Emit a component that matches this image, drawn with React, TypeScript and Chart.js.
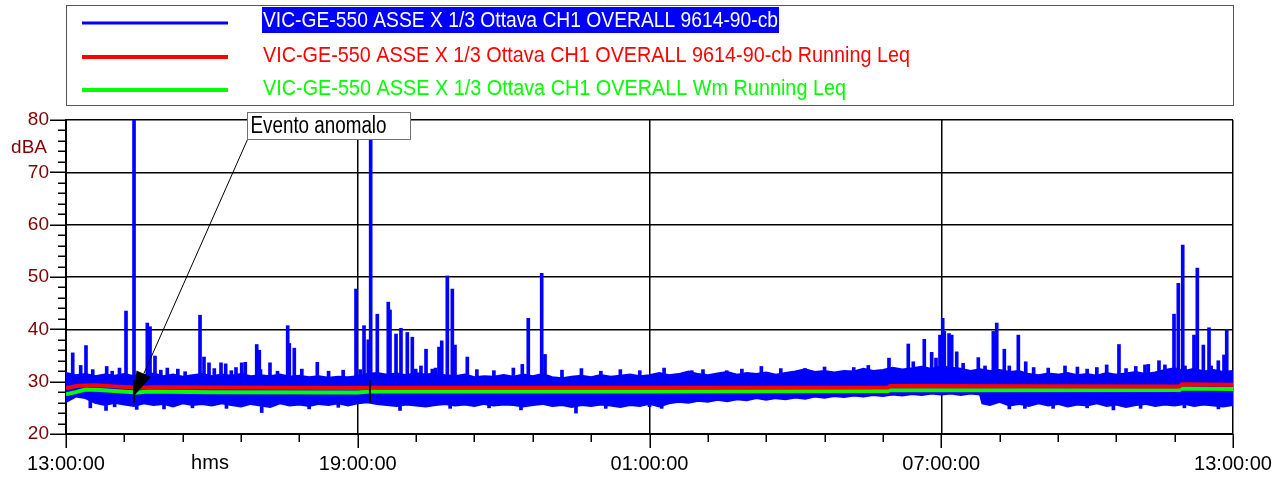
import React, { useEffect, useRef } from 'react';
import { Chart, registerables } from 'chart.js';

Chart.register(...registerables);

// ---------- data (time in hours after 13:00:00, level in dBA) ----------
const legendLabels = [
  'VIC-GE-550 ASSE X 1/3 Ottava CH1 OVERALL 9614-90-cb',
  'VIC-GE-550 ASSE X 1/3 Ottava CH1 OVERALL 9614-90-cb Running Leq',
  'VIC-GE-550 ASSE X 1/3 Ottava CH1 OVERALL Wm Running Leq',
];
const xTickLabels = ['13:00:00', '19:00:00', '01:00:00', '07:00:00', '13:00:00'];
const yAxisUnit = 'dBA';
const xAxisUnit = 'hms';
const annotationText = 'Evento anomalo';

// upper edge of the noisy blue trace
const bandTop: [number, number][] = [
  [0, 31.6], [0.2, 31.2], [0.4, 31.4], [0.6, 31.0], [0.8, 31.3], [1.0, 31.1], [1.2, 31.4], [1.4, 31.0],
  [1.6, 31.2], [1.8, 31.5], [2.0, 31.0], [2.2, 31.3], [2.4, 30.9], [2.6, 31.2], [2.8, 31.4], [3.0, 31.0],
  [3.2, 31.3], [3.4, 31.1], [3.6, 31.4], [3.8, 31.0], [4.0, 31.2], [4.2, 31.0], [4.4, 31.3], [4.6, 30.9],
  [4.8, 31.1], [5.0, 30.8], [5.2, 31.0], [5.4, 30.7], [5.6, 30.9], [5.8, 30.8], [6.0, 31.0], [6.2, 31.4],
  [6.4, 31.6], [6.6, 31.3], [6.8, 31.5], [7.0, 31.2], [7.2, 31.6], [7.4, 31.3], [7.6, 31.5], [7.8, 31.2],
  [8.0, 31.0], [8.2, 31.3], [8.4, 30.8], [8.6, 31.0], [8.8, 30.9], [9.0, 31.2], [9.2, 30.9], [9.4, 31.3],
  [9.6, 31.0], [9.8, 31.4], [10.0, 30.8], [10.2, 30.6], [10.4, 30.9], [10.6, 31.1], [10.8, 30.8], [11.0, 31.2],
  [11.2, 30.9], [11.4, 31.1], [11.6, 31.3], [11.8, 31.0], [12.0, 31.2], [12.2, 31.6], [12.4, 31.2], [12.6, 31.4],
  [12.8, 31.9], [13.0, 31.4], [13.2, 31.2], [13.4, 31.5], [13.6, 31.8], [13.8, 31.3], [14.0, 31.6], [14.2, 31.4],
  [14.4, 31.7], [14.6, 31.3], [14.8, 31.6], [15.0, 31.9], [15.2, 32.3], [15.4, 31.8], [15.6, 32.0], [15.8, 31.7],
  [16.0, 32.0], [16.2, 31.9], [16.4, 32.4], [16.6, 32.0], [16.8, 32.2], [17.0, 32.6], [17.2, 32.3], [17.4, 32.5],
  [17.6, 32.8], [17.8, 32.4], [18.0, 32.9], [18.2, 32.6], [18.4, 32.4], [18.6, 32.0], [18.8, 32.3], [19.0, 32.0],
  [19.2, 32.2], [19.4, 31.8], [19.6, 32.0], [19.8, 31.4], [20.0, 31.2], [20.2, 31.5], [20.4, 31.3], [20.6, 31.6],
  [20.8, 31.2], [21.0, 31.4], [21.2, 31.1], [21.4, 31.6], [21.6, 31.3], [21.8, 31.5], [22.0, 31.8], [22.2, 31.4],
  [22.4, 31.7], [22.6, 32.2], [22.8, 32.5], [23.0, 32.0], [23.2, 32.4], [23.4, 31.9], [23.6, 32.2], [23.8, 31.8],
  [24.0, 32.0],
];

// lower edge of the noisy blue trace
const bandBottom: [number, number][] = [
  [0, 26.2], [0.2, 27.2], [0.4, 26.9], [0.6, 26.0], [0.8, 25.6], [1.0, 26.0], [1.2, 25.7], [1.4, 25.4],
  [1.6, 25.9], [1.8, 25.6], [2.0, 25.8], [2.2, 25.3], [2.4, 25.9], [2.6, 25.6], [2.8, 25.8], [3.0, 25.5],
  [3.2, 25.9], [3.4, 25.6], [3.6, 25.3], [3.8, 25.8], [4.0, 25.5], [4.2, 25.2], [4.4, 25.9], [4.6, 25.5],
  [4.8, 25.7], [5.0, 25.4], [5.2, 25.8], [5.4, 25.6], [5.6, 25.9], [5.8, 25.5], [6.0, 25.9], [6.2, 26.1],
  [6.4, 25.8], [6.6, 25.6], [6.8, 25.4], [7.0, 25.7], [7.2, 25.5], [7.4, 25.3], [7.6, 25.6], [7.8, 25.8],
  [8.0, 25.5], [8.2, 25.7], [8.4, 25.4], [8.6, 25.8], [8.8, 25.5], [9.0, 25.7], [9.2, 25.6], [9.4, 25.3],
  [9.6, 25.6], [9.8, 25.8], [10.0, 25.4], [10.2, 25.6], [10.4, 25.2], [10.6, 25.6], [10.8, 25.4], [11.0, 25.7],
  [11.2, 25.5], [11.4, 25.2], [11.6, 25.6], [11.8, 25.4], [12.0, 25.8], [12.2, 25.3], [12.4, 25.9], [12.6, 26.2],
  [12.8, 26.0], [13.0, 26.4], [13.2, 26.2], [13.4, 26.6], [13.6, 26.3], [13.8, 26.7], [14.0, 26.5], [14.2, 26.9],
  [14.4, 26.6], [14.6, 26.9], [14.8, 26.7], [15.0, 27.0], [15.2, 26.8], [15.4, 27.2], [15.6, 27.0], [15.8, 27.3],
  [16.0, 27.1], [16.2, 27.4], [16.4, 27.2], [16.6, 27.5], [16.8, 27.3], [17.0, 27.6], [17.2, 27.4], [17.4, 27.7],
  [17.6, 27.5], [17.8, 27.8], [18.0, 27.6], [18.2, 27.8], [18.4, 27.5], [18.6, 27.8], [18.8, 27.6], [18.85, 25.9],
  [19.0, 25.6], [19.2, 26.2], [19.4, 25.5], [19.6, 25.8], [19.8, 25.4], [20.0, 25.9], [20.2, 25.5], [20.4, 25.8],
  [20.6, 25.3], [20.8, 25.7], [21.0, 25.5], [21.2, 25.9], [21.4, 25.4], [21.6, 25.7], [21.8, 25.2], [22.0, 25.6],
  [22.2, 25.8], [22.4, 25.4], [22.6, 25.7], [22.8, 25.5], [23.0, 25.8], [23.2, 25.4], [23.4, 25.7], [23.6, 25.5],
  [23.8, 25.3], [24.0, 25.6],
];

// short peaks of the blue trace
const spikeHours = [
  0.138, 0.302, 0.411, 0.837, 1.234, 1.399, 1.672, 1.728, 1.83, 2.083, 2.756, 2.838, 2.941, 3.188, 3.284,
  3.496, 3.613, 3.687, 3.922, 3.975, 4.195, 4.559, 4.592, 4.695, 5.168, 5.964, 6.129, 6.217, 6.266, 6.402,
  6.628, 6.663, 6.787, 6.889, 7.019, 7.122, 7.192, 7.404, 7.533, 7.671, 7.727, 7.842, 7.945, 8.0, 8.253,
  9.384, 9.507, 9.783, 9.851, 12.868, 13.588, 15.198, 16.5, 16.925, 17.322, 17.425, 17.651, 17.803, 17.892,
  17.974, 18.03, 18.063, 18.16, 18.215, 18.318, 18.762, 19.071, 19.141, 19.297, 19.585, 19.737, 20.545,
  21.402, 21.655, 22.19, 22.258, 22.478, 22.787, 22.875, 22.966, 23.013, 23.198, 23.266, 23.39, 23.507,
  23.698, 23.815, 23.871, 23.974,
];
const spikeLevels = [
  35.5, 33.1, 36.9, 32.9, 43.5, 80, 41.2, 40.5, 34.9, 32.6, 42.7, 34.7, 33.6, 33.6, 33.4,
  32.7, 33.6, 33.7, 37.1, 36.0, 33.6, 40.7, 37.3, 36.4, 33.7, 47.7, 40.7, 38.0, 80, 42.9,
  45.2, 43.7, 39.1, 40.2, 39.4, 38.5, 32.4, 36.2, 32.4, 36.6, 37.8, 50.2, 47.7, 37.0, 34.7,
  33.3, 42.1, 50.7, 35.2, 32.1, 32.1, 32.5, 33.1, 34.5, 37.2, 33.8, 38.1, 35.6, 34.5,
  38.9, 42.1, 39.6, 39.2, 38.9, 35.7, 34.6, 39.6, 41.2, 36.2, 38.9, 33.8, 33.0,
  33.2, 37.1, 33.2, 33.3, 34.0, 42.9, 48.8, 56.1, 33.0, 38.9, 51.7, 37.0, 40.3,
  34.0, 35.1, 40.0, 31.7,
];
// small ripples on the top edge of the blue trace
const rippleHours = [
  0.55, 0.95, 1.1, 1.95, 2.3, 2.45, 3.05, 3.4, 4.0, 4.35, 4.85, 5.4, 5.7, 6.05, 7.3, 7.6, 8.45, 8.8,
  9.2, 10.2, 10.6, 11.0, 11.4, 11.8, 12.3, 13.1, 13.9, 14.3, 14.7, 15.6, 16.2, 18.45, 18.9, 19.4, 19.9,
  20.2, 20.8, 21.0, 21.2, 21.8, 22.0, 22.6, 23.55,
];
const rippleLevels = [
  32.3, 32.0, 32.6, 32.2, 32.4, 31.9, 32.5, 32.1, 32.3, 32.0, 32.4, 32.0, 32.2, 32.3, 33.0, 32.6, 32.3, 32.1,
  32.6, 32.2, 32.5, 32.0, 32.3, 32.1, 32.6, 32.3, 32.4, 32.9, 32.5, 32.8, 32.7, 33.5, 33.0, 33.0, 32.7,
  32.6, 32.8, 32.4, 32.7, 32.5, 32.9, 33.2, 33.0,
];
// short downward dips of the blue trace
const dipHours = [
  0.5, 0.823, 1.0, 1.454, 2.015, 2.6, 3.3, 4.025, 5.0, 5.6, 6.869, 7.9, 8.7, 9.357, 10.488, 11.1, 12.0,
  12.251, 19.4, 19.72, 20.3, 21.0, 21.54, 22.1, 23.0, 23.7,
];
const dipLevels = [
  25.0, 24.5, 25.2, 24.7, 24.8, 25.0, 24.9, 24.1, 24.8, 25.1, 24.5, 24.9, 25.0, 24.6, 24.0, 24.9, 25.2,
  24.9, 24.8, 24.9, 24.9, 25.0, 24.6, 24.9, 25.0, 24.8,
];

// running Leq curves
const redLeq: [number, number][] = [
  [0, 28.8], [0.25, 29.2], [0.6, 29.3], [1.0, 29.1], [1.38, 28.9], [1.42, 28.8], [1.8, 28.95], [3, 28.9],
  [6, 28.8], [6.25, 28.85], [12, 28.85], [16.9, 28.9], [16.95, 29.15], [22.9, 29.1], [22.95, 29.5], [24, 29.4],
];
const greenLeq: [number, number][] = [
  [0, 27.6], [0.2, 28.0], [0.4, 28.5], [0.7, 28.4], [1.0, 28.2], [1.38, 28.0], [1.42, 27.9], [1.7, 28.1],
  [3, 28.0], [6, 27.95], [6.25, 28.1], [12, 28.1], [16.9, 28.2], [16.95, 28.35], [22.9, 28.4], [22.95, 28.7],
  [24, 28.6],
];

// event markers (hours) and the level the arrow points at
const eventHours = [1.399, 6.25];
const eventLow = 26.0;
const eventHigh = 30.3;
const arrowLevel = 27.3;

const BLUE = '#0000ff';
const RED = '#ff0000';
const GREEN = '#00ff00';
const AXIS_RED = '#800000';
const FONT = "'Liberation Sans', Arial, sans-serif";

const toPts = (arr: [number, number][]) => arr.map(([h, v]) => ({ x: h * 60, y: v }));

const decorPlugin = {
  id: 'decor',
  beforeDraw(chart: any) {
    const { ctx, width, height } = chart;
    ctx.save();
    ctx.fillStyle = '#ffffff';
    ctx.fillRect(0, 0, width, height);
    ctx.restore();
  },
  afterDraw(chart: any) {
    const { ctx, chartArea: ca, scales } = chart;
    const x = scales.x;
    const y = scales.y;
    ctx.save();

    // tick marks
    ctx.strokeStyle = '#000';
    ctx.lineWidth = 1.5;
    for (let v = 20; v <= 80; v += 2) {
      const py = Math.round(y.getPixelForValue(v)) + 0.25;
      const len = v % 10 === 0 ? 16 : 8;
      ctx.beginPath();
      ctx.moveTo(ca.left - len, py);
      ctx.lineTo(ca.left, py);
      ctx.stroke();
    }
    for (let m = 0; m <= 1440; m += 72) {
      const px = Math.round(x.getPixelForValue(m)) + 0.25;
      const len = m % 360 === 0 ? 14 : 8;
      ctx.beginPath();
      ctx.moveTo(px, ca.bottom);
      ctx.lineTo(px, ca.bottom + len);
      ctx.stroke();
    }

    // axis unit labels
    ctx.font = `19px ${FONT}`;
    ctx.fillStyle = AXIS_RED;
    ctx.textAlign = 'right';
    ctx.textBaseline = 'middle';
    ctx.fillText(yAxisUnit, ca.left - 19, ca.top + 28);
    ctx.font = `20px ${FONT}`;
    ctx.fillStyle = '#000';
    ctx.textAlign = 'center';
    ctx.fillText(xAxisUnit, ca.left + 144, ca.bottom + 29);

    // event markers
    ctx.strokeStyle = '#000';
    ctx.lineWidth = 2;
    eventHours.forEach((h) => {
      const px = x.getPixelForValue(h * 60);
      ctx.beginPath();
      ctx.moveTo(px, y.getPixelForValue(eventLow));
      ctx.lineTo(px, y.getPixelForValue(eventHigh));
      ctx.stroke();
    });

    // annotation with arrow
    const bx = ca.left + 181.5;
    const by = ca.top - 7.5;
    const bw = 163;
    const bh = 27;
    const tipX = x.getPixelForValue(eventHours[0] * 60);
    const tipY = y.getPixelForValue(arrowLevel);
    const sx = bx;
    const sy = by + bh;
    const dx = tipX - sx;
    const dy = tipY - sy;
    const d = Math.hypot(dx, dy);
    const ux = dx / d;
    const uy = dy / d;
    const headLen = 24;
    const headHalf = 8;
    ctx.strokeStyle = '#000';
    ctx.lineWidth = 1;
    ctx.beginPath();
    ctx.moveTo(sx, sy);
    ctx.lineTo(tipX - ux * headLen, tipY - uy * headLen);
    ctx.stroke();
    ctx.fillStyle = '#000';
    ctx.beginPath();
    ctx.moveTo(tipX, tipY);
    ctx.lineTo(tipX - ux * headLen - uy * headHalf, tipY - uy * headLen + ux * headHalf);
    ctx.lineTo(tipX - ux * headLen + uy * headHalf, tipY - uy * headLen - ux * headHalf);
    ctx.closePath();
    ctx.fill();

    ctx.fillStyle = '#fff';
    ctx.fillRect(bx, by, bw, bh);
    ctx.strokeStyle = '#707070';
    ctx.lineWidth = 1;
    ctx.strokeRect(bx, by, bw, bh);
    ctx.fillStyle = '#000';
    ctx.font = `23px ${FONT}`;
    ctx.textAlign = 'left';
    ctx.textBaseline = 'middle';
    {
      const w = ctx.measureText(annotationText).width;
      ctx.save();
      ctx.translate(bx + 3, by + bh / 2 + 1);
      ctx.scale(136 / w, 1);
      ctx.fillText(annotationText, 0, 0);
      ctx.restore();
    }

    // legend box
    const lx = ca.left;
    const lw = ca.right - ca.left;
    ctx.strokeStyle = '#555';
    ctx.lineWidth = 1;
    ctx.strokeRect(lx + 0.5, 5.5, lw, 100);
    const colors = [BLUE, RED, GREEN];
    const rowY = [20, 55, 88];
    const lineY = [23, 57, 90];
    const textW = [515, 647, 583];
    ctx.font = `22px ${FONT}`;
    ctx.textAlign = 'left';
    ctx.textBaseline = 'middle';
    for (let i = 0; i < 3; i++) {
      ctx.strokeStyle = colors[i];
      ctx.lineWidth = i === 0 ? 3 : 4;
      ctx.beginPath();
      ctx.moveTo(lx + 16, lineY[i]);
      ctx.lineTo(lx + 162, lineY[i]);
      ctx.stroke();
      if (i === 0) {
        ctx.fillStyle = BLUE;
        ctx.fillRect(lx + 196, 7, 517, 26);
        ctx.fillStyle = '#fff';
      } else {
        ctx.fillStyle = colors[i];
      }
      const w = ctx.measureText(legendLabels[i]).width;
      ctx.save();
      ctx.translate(lx + 197, rowY[i] + 1);
      ctx.scale(textW[i] / w, 1);
      ctx.fillText(legendLabels[i], 0, 0);
      ctx.restore();
    }

    ctx.restore();
  },
};

export default function App() {
  const ref = useRef<HTMLCanvasElement>(null);

  useEffect(() => {
    if (!ref.current) return;
    Chart.defaults.font.family = FONT;

    const peaks = spikeHours
      .map((h, i) => ({ x: h * 60, y: [30.5, spikeLevels[i]] }))
      .concat(rippleHours.map((h, i) => ({ x: h * 60, y: [30.5, rippleLevels[i]] })))
      .concat(dipHours.map((h, i) => ({ x: h * 60, y: [26.5, dipLevels[i]] })));

    const chart = new Chart(ref.current, {
      type: 'line',
      data: {
        datasets: [
          {
            label: legendLabels[0],
            data: toPts(bandTop),
            borderColor: BLUE,
            backgroundColor: BLUE,
            borderWidth: 2.5,
            pointRadius: 0,
            fill: '+1',
            order: 3,
          },
          {
            label: legendLabels[0] + ' (min)',
            data: toPts(bandBottom),
            borderColor: BLUE,
            borderWidth: 2.5,
            pointRadius: 0,
            fill: false,
            order: 3,
          },
          {
            type: 'bar',
            label: legendLabels[0] + ' (peaks)',
            data: peaks as any,
            backgroundColor: BLUE,
            borderWidth: 0,
            barThickness: 3,
            clip: 0,
            order: 3,
          } as any,
          {
            label: legendLabels[2],
            data: toPts(greenLeq),
            borderColor: GREEN,
            borderWidth: 4,
            pointRadius: 0,
            fill: false,
            order: 2,
          },
          {
            label: legendLabels[1],
            data: toPts(redLeq),
            borderColor: RED,
            borderWidth: 4,
            pointRadius: 0,
            fill: false,
            order: 1,
          },
        ],
      },
      options: {
        animation: false,
        responsive: false,
        devicePixelRatio: 1,
        layout: { padding: { top: 120, right: 42, left: 0, bottom: 0 } },
        plugins: {
          legend: { display: false },
          tooltip: { enabled: false },
        },
        scales: {
          x: {
            type: 'linear',
            min: 0,
            max: 1440,
            offset: false,
            grid: {
              offset: false,
              drawTicks: false,
              lineWidth: 1.5,
              color: (c: any) => (c.tick && c.tick.value % 360 === 0 ? '#000' : 'rgba(0,0,0,0)'),
            },
            border: { display: true, color: '#000', width: 2 },
            ticks: {
              stepSize: 72,
              autoSkip: false,
              maxRotation: 0,
              padding: 18,
              color: '#000',
              font: { size: 20, family: FONT },
              callback: (v: any) => (Number(v) % 360 === 0 ? xTickLabels[Number(v) / 360] : ''),
            },
            afterFit: (s: any) => {
              s.height = 43;
              s.paddingLeft = 0;
              s.paddingRight = 0;
            },
          },
          y: {
            type: 'linear',
            min: 20,
            max: 80,
            grid: { drawTicks: false, lineWidth: 1.5, color: '#000' },
            border: { display: true, color: '#000', width: 2 },
            ticks: {
              stepSize: 10,
              padding: 17,
              color: AXIS_RED,
              font: { size: 19, family: FONT },
            },
            afterFit: (s: any) => {
              s.width = 66;
              s.paddingTop = 0;
              s.paddingBottom = 0;
            },
          },
        },
      },
      plugins: [decorPlugin],
    } as any);

    return () => chart.destroy();
  }, []);

  return (
    <div style={{ position: 'fixed', left: 0, top: 0, width: 1275, height: 477, background: '#fff' }}>
      <canvas ref={ref} width={1275} height={477} style={{ width: 1275, height: 477, display: 'block' }} />
    </div>
  );
}
